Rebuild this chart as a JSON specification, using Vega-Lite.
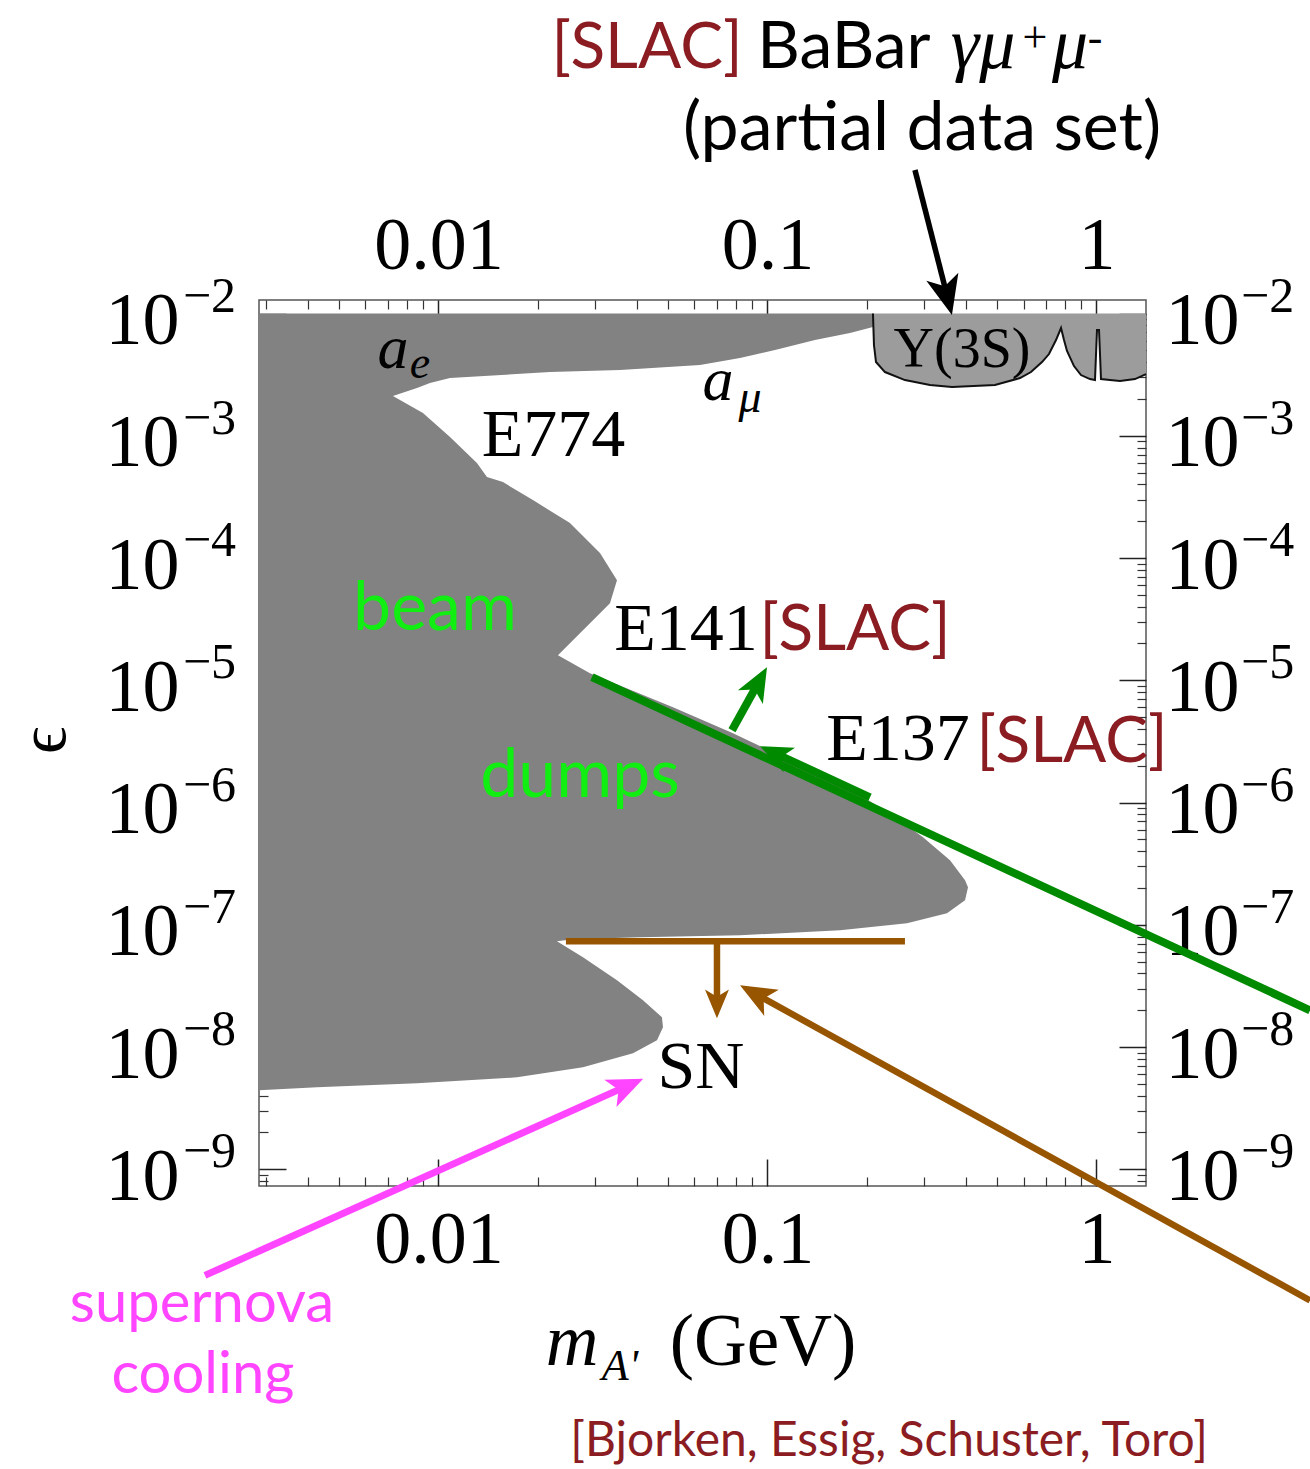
{
"$schema": "https://vega.github.io/schema/vega-lite/v6.json",
"width": 887, "height": 886,
"autosize": {"type": "none"},
"padding": {"left": 259, "top": 300, "right": 164, "bottom": 283},
"background": "white",
"config": {"view": {"stroke": "#555555", "strokeWidth": 1.5}},
"resolve": {"axis": {"x": "independent", "y": "independent"}},
"datasets": {
"region": [
{"m":0.2092,"eps":0.01},{"m":0.2092,"eps":7.753e-3},{"m":0.1781,"eps":6.924e-3},{"m":0.1394,"eps":6.069e-3},{"m":0.1054,"eps":5.027e-3},{"m":0.08249,"eps":4.323e-3},{"m":0.06234,"eps":3.790e-3},{"m":0.03562,"eps":3.448e-3},{"m":0.02182,"eps":3.321e-3},{"m":0.01084,"eps":2.966e-3},{"m":0.009423,"eps":2.700e-3},{"m":0.008604,"eps":2.457e-3},{"m":0.007271,"eps":2.113e-3},{"m":0.008972,"eps":1.534e-3},{"m":0.01084,"eps":9.759e-4},{"m":0.01309,"eps":5.978e-4},{"m":0.01404,"eps":4.592e-4},{"m":0.01570,"eps":4.180e-4},{"m":0.01937,"eps":2.977e-4},{"m":0.02510,"eps":1.930e-4},{"m":0.03097,"eps":1.097e-4},{"m":0.03488,"eps":6.593e-5},{"m":0.03321,"eps":4.274e-5},{"m":0.02749,"eps":2.570e-5},{"m":0.02308,"eps":1.605e-5},{"m":0.02887,"eps":1.143e-5},{"m":0.05162,"eps":6.024e-6},{"m":0.07855,"eps":3.690e-6},{"m":0.1171,"eps":2.219e-6},{"m":0.1661,"eps":1.439e-6},{"m":0.2357,"eps":8.174e-7},{"m":0.2970,"eps":5.200e-7},{"m":0.3587,"eps":3.372e-7},{"m":0.3985,"eps":2.313e-7},{"m":0.4069,"eps":2.027e-7},{"m":0.3985,"eps":1.587e-7},{"m":0.3512,"eps":1.242e-7},{"m":0.2655,"eps":1.029e-7},{"m":0.1661,"eps":9.016e-8},{"m":0.08249,"eps":8.206e-8},{"m":0.04098,"eps":7.902e-8},{"m":0.02563,"eps":7.609e-8},{"m":0.02292,"eps":7.328e-8},{"m":0.02749,"eps":5.420e-8},{"m":0.03488,"eps":3.514e-8},{"m":0.04184,"eps":2.411e-8},{"m":0.04778,"eps":1.750e-8},{"m":0.04813,"eps":1.450e-8},{"m":0.04615,"eps":1.134e-8},{"m":0.03901,"eps":8.881e-9},{"m":0.02749,"eps":6.823e-9},{"m":0.01732,"eps":5.649e-9},{"m":0.008604,"eps":5.046e-9},{"m":0.004272,"eps":4.680e-9},{"m":0.002848,"eps":4.423e-9}
],
"babar": [
{"m":0.2092,"eps":0.01},{"m":0.2107,"eps":5.524e-3},{"m":0.2137,"eps":4.010e-3},{"m":0.2276,"eps":3.321e-3},{"m":0.2617,"eps":2.856e-3},{"m":0.3118,"eps":2.599e-3},{"m":0.3638,"eps":2.503e-3},{"m":0.4914,"eps":2.599e-3},{"m":0.5855,"eps":2.966e-3},{"m":0.6323,"eps":3.321e-3},{"m":0.6829,"eps":4.010e-3},{"m":0.7171,"eps":4.662e-3},{"m":0.7532,"eps":6.069e-3},{"m":0.7801,"eps":7.609e-3},{"m":0.7966,"eps":6.069e-3},{"m":0.8135,"eps":4.934e-3},{"m":0.8543,"eps":3.718e-3},{"m":0.8971,"eps":3.139e-3},{"m":0.9555,"eps":2.911e-3},{"m":0.9895,"eps":2.856e-3},{"m":1.0035,"eps":7.328e-3},{"m":1.0177,"eps":7.328e-3},{"m":1.032,"eps":2.911e-3},{"m":1.099,"eps":2.856e-3},{"m":1.179,"eps":2.803e-3},{"m":1.309,"eps":2.911e-3},{"m":1.414,"eps":3.198e-3}
],
"sups": [
{"eps":1e-2,"t":"−2"},{"eps":1e-3,"t":"−3"},{"eps":1e-4,"t":"−4"},{"eps":1e-5,"t":"−5"},{"eps":1e-6,"t":"−6"},{"eps":1e-7,"t":"−7"},{"eps":1e-8,"t":"−8"},{"eps":1e-9,"t":"−9"}
]
},
"layer": [
{"data": {"name": "region"},
 "mark": {"type": "area", "orient": "horizontal", "color": "#828282"},
 "encoding": {
  "y": {"field": "eps", "type": "quantitative", "scale": {"type": "log", "domain": [7.3e-10, 0.0129], "nice": false},
        "axis": {"orient": "left", "values": [1e-9,1e-8,1e-7,1e-6,1e-5,1e-4,1e-3,1e-2], "labelExpr": "'10'", "title": null, "domain": false, "grid": false, "ticks": true, "tickSize": 27, "offset": -27, "tickColor": "#222222", "tickWidth": 1.5, "labelFont": "Liberation Serif", "labelFontSize": 74, "labelColor": "#000000", "labelAlign": "right", "labelBaseline": "alphabetic", "labelOffset": 30, "labelPadding": 80, "labelOverlap": false, "labelFlush": false, "labelBound": false}},
  "x": {"field": "m", "type": "quantitative", "scale": {"type": "log", "domain": [0.002848, 1.414], "nice": false},
        "axis": {"orient": "bottom", "values": [0.01, 0.1, 1], "labelExpr": "datum.value < 0.05 ? '0.01' : (datum.value < 0.5 ? '0.1' : '1')", "title": null, "domain": false, "grid": false, "ticks": true, "tickSize": 27, "offset": -27, "tickColor": "#222222", "tickWidth": 1.5, "labelFont": "Liberation Serif", "labelFontSize": 74, "labelColor": "#000000", "labelAlign": "center", "labelBaseline": "alphabetic", "labelPadding": 76, "labelOverlap": false, "labelFlush": false, "labelBound": false}},
  "x2": {"datum": 0.002848}
 }},
{"data": {"name": "babar"},
 "mark": {"type": "area", "color": "#9c9c9c"},
 "encoding": {
  "x": {"field": "m", "type": "quantitative", "scale": {"type": "log", "domain": [0.002848, 1.414], "nice": false},
        "axis": {"orient": "bottom", "values": [0.003,0.004,0.005,0.006,0.007,0.008,0.009,0.02,0.03,0.04,0.05,0.06,0.07,0.08,0.09,0.2,0.3,0.4,0.5,0.6,0.7,0.8,0.9], "labels": false, "title": null, "domain": false, "grid": false, "tickSize": 9, "offset": -9, "tickColor": "#333333", "tickWidth": 1.2}},
  "y": {"field": "eps", "type": "quantitative", "scale": {"type": "log", "domain": [7.3e-10, 0.0129], "nice": false},
        "axis": {"orient": "left", "values": [8e-10,9e-10,2e-9,3e-9,4e-9,5e-9,6e-9,7e-9,8e-9,9e-9,2e-8,3e-8,4e-8,5e-8,6e-8,7e-8,8e-8,9e-8,2e-7,3e-7,4e-7,5e-7,6e-7,7e-7,8e-7,9e-7,2e-6,3e-6,4e-6,5e-6,6e-6,7e-6,8e-6,9e-6,2e-5,3e-5,4e-5,5e-5,6e-5,7e-5,8e-5,9e-5,2e-4,3e-4,4e-4,5e-4,6e-4,7e-4,8e-4,9e-4,2e-3,3e-3,4e-3,5e-3,6e-3,7e-3,8e-3,9e-3], "labels": false, "title": null, "domain": false, "grid": false, "tickSize": 9, "offset": -9, "tickColor": "#333333", "tickWidth": 1.2}},
  "y2": {"datum": 0.01}
 }},
{"data": {"name": "babar"},
 "mark": {"type": "line", "color": "#111111", "strokeWidth": 2},
 "encoding": {
  "x": {"field": "m", "type": "quantitative", "scale": {"type": "log", "domain": [0.002848, 1.414], "nice": false},
        "axis": {"orient": "top", "values": [0.01, 0.1, 1], "labelExpr": "datum.value < 0.05 ? '0.01' : (datum.value < 0.5 ? '0.1' : '1')", "title": null, "domain": false, "grid": false, "ticks": true, "tickSize": 27, "offset": -27, "tickColor": "#222222", "tickWidth": 1.5, "labelFont": "Liberation Serif", "labelFontSize": 74, "labelColor": "#000000", "labelAlign": "center", "labelBaseline": "alphabetic", "labelPadding": 32, "labelOverlap": false, "labelFlush": false, "labelBound": false}},
  "y": {"field": "eps", "type": "quantitative", "scale": {"type": "log", "domain": [7.3e-10, 0.0129], "nice": false},
        "axis": {"orient": "right", "values": [1e-9,1e-8,1e-7,1e-6,1e-5,1e-4,1e-3,1e-2], "labelExpr": "'10'", "title": null, "domain": false, "grid": false, "ticks": true, "tickSize": 27, "offset": -27, "tickColor": "#222222", "tickWidth": 1.5, "labelFont": "Liberation Serif", "labelFontSize": 74, "labelColor": "#000000", "labelAlign": "left", "labelBaseline": "alphabetic", "labelOffset": 30, "labelPadding": 19, "labelOverlap": false, "labelFlush": false, "labelBound": false}}
 }},
{"data": {"values": [
  {"m":0.02928,"eps":1.060e-5,"m2":4.456,"eps2":1.997e-8},
  {"m":0.07801,"eps":3.906e-6,"m2":0.09344,"eps2":9.363e-6},
  {"m":0.2049,"eps":1.103e-6,"m2":0.1063,"eps2":2.503e-6}]},
 "mark": {"type": "rule", "color": "#008a00", "strokeWidth": 8},
 "encoding": {
  "x": {"field": "m", "type": "quantitative", "scale": {"type": "log", "domain": [0.002848, 1.414], "nice": false},
        "axis": {"orient": "top", "values": [0.003,0.004,0.005,0.006,0.007,0.008,0.009,0.02,0.03,0.04,0.05,0.06,0.07,0.08,0.09,0.2,0.3,0.4,0.5,0.6,0.7,0.8,0.9], "labels": false, "title": null, "domain": false, "grid": false, "tickSize": 9, "offset": -9, "tickColor": "#333333", "tickWidth": 1.2}},
  "x2": {"field": "m2"},
  "y": {"field": "eps", "type": "quantitative", "scale": {"type": "log", "domain": [7.3e-10, 0.0129], "nice": false},
        "axis": {"orient": "right", "values": [8e-10,9e-10,2e-9,3e-9,4e-9,5e-9,6e-9,7e-9,8e-9,9e-9,2e-8,3e-8,4e-8,5e-8,6e-8,7e-8,8e-8,9e-8,2e-7,3e-7,4e-7,5e-7,6e-7,7e-7,8e-7,9e-7,2e-6,3e-6,4e-6,5e-6,6e-6,7e-6,8e-6,9e-6,2e-5,3e-5,4e-5,5e-5,6e-5,7e-5,8e-5,9e-5,2e-4,3e-4,4e-4,5e-4,6e-4,7e-4,8e-4,9e-4,2e-3,3e-3,4e-3,5e-3,6e-3,7e-3,8e-3,9e-3], "labels": false, "title": null, "domain": false, "grid": false, "tickSize": 9, "offset": -9, "tickColor": "#333333", "tickWidth": 1.2}},
  "y2": {"field": "eps2"}
 }},
{"data": {"values": [
  {"m":0.02440,"eps":7.328e-8,"m2":0.2617,"eps2":7.328e-8},
  {"m":0.07022,"eps":7.328e-8,"m2":0.07022,"eps2":2.322e-8},
  {"m":4.456,"eps":8.455e-11,"m2":0.09325,"eps2":2.664e-8}]},
 "mark": {"type": "rule", "color": "#975500", "strokeWidth": 6.5},
 "encoding": {
  "x": {"field": "m", "type": "quantitative", "scale": {"type": "log", "domain": [0.002848, 1.414], "nice": false}, "axis": null},
  "x2": {"field": "m2"},
  "y": {"field": "eps", "type": "quantitative", "scale": {"type": "log", "domain": [7.3e-10, 0.0129], "nice": false}, "axis": null},
  "y2": {"field": "eps2"}
 }},
{"data": {"values": [{"m":0.001951,"eps":1.355e-10,"m2":0.03689,"eps2":4.724e-9}]},
 "mark": {"type": "rule", "color": "#ff45ff", "strokeWidth": 7},
 "encoding": {
  "x": {"field": "m", "type": "quantitative", "scale": {"type": "log", "domain": [0.002848, 1.414], "nice": false}, "axis": null},
  "x2": {"field": "m2"},
  "y": {"field": "eps", "type": "quantitative", "scale": {"type": "log", "domain": [7.3e-10, 0.0129], "nice": false}, "axis": null},
  "y2": {"field": "eps2"}
 }},
{"data": {"values": [{"m":0.2807,"eps":0.1494,"m2":0.3503,"eps2":0.01452}]},
 "mark": {"type": "rule", "color": "#000000", "strokeWidth": 5.5},
 "encoding": {
  "x": {"field": "m", "type": "quantitative", "scale": {"type": "log", "domain": [0.002848, 1.414], "nice": false}, "axis": null},
  "x2": {"field": "m2"},
  "y": {"field": "eps", "type": "quantitative", "scale": {"type": "log", "domain": [7.3e-10, 0.0129], "nice": false}, "axis": null},
  "y2": {"field": "eps2"}
 }},
{"data": {"values": [{"m":0.3503,"eps":0.01452}]},
 "mark": {"type": "point", "shape": "M0,-1L0.75,0.8L0,0.35L-0.75,0.8Z", "filled": true, "opacity": 1, "color": "#000000", "size": 1936, "angle": 166},
 "encoding": {
  "x": {"field": "m", "type": "quantitative", "scale": {"type": "log", "domain": [0.002848, 1.414], "nice": false}, "axis": null},
  "y": {"field": "eps", "type": "quantitative", "scale": {"type": "log", "domain": [7.3e-10, 0.0129], "nice": false}, "axis": null}
 }},
{"data": {"values": [{"m":0.09344,"eps":9.363e-6}]},
 "mark": {"type": "point", "shape": "M0,-1L0.75,0.8L0,0.35L-0.75,0.8Z", "filled": true, "opacity": 1, "color": "#008a00", "size": 1444, "angle": 29},
 "encoding": {
  "x": {"field": "m", "type": "quantitative", "scale": {"type": "log", "domain": [0.002848, 1.414], "nice": false}, "axis": null},
  "y": {"field": "eps", "type": "quantitative", "scale": {"type": "log", "domain": [7.3e-10, 0.0129], "nice": false}, "axis": null}
 }},
{"data": {"values": [{"m":0.1063,"eps":2.503e-6}]},
 "mark": {"type": "point", "shape": "M0,-1L0.75,0.8L0,0.35L-0.75,0.8Z", "filled": true, "opacity": 1, "color": "#008a00", "size": 1296, "angle": 295},
 "encoding": {
  "x": {"field": "m", "type": "quantitative", "scale": {"type": "log", "domain": [0.002848, 1.414], "nice": false}, "axis": null},
  "y": {"field": "eps", "type": "quantitative", "scale": {"type": "log", "domain": [7.3e-10, 0.0129], "nice": false}, "axis": null}
 }},
{"data": {"values": [{"m":0.07022,"eps":2.322e-8}]},
 "mark": {"type": "point", "shape": "M0,-1L0.75,0.8L0,0.35L-0.75,0.8Z", "filled": true, "opacity": 1, "color": "#975500", "size": 1024, "angle": 180},
 "encoding": {
  "x": {"field": "m", "type": "quantitative", "scale": {"type": "log", "domain": [0.002848, 1.414], "nice": false}, "axis": null},
  "y": {"field": "eps", "type": "quantitative", "scale": {"type": "log", "domain": [7.3e-10, 0.0129], "nice": false}, "axis": null}
 }},
{"data": {"values": [{"m":0.09325,"eps":2.664e-8}]},
 "mark": {"type": "point", "shape": "M0,-1L0.75,0.8L0,0.35L-0.75,0.8Z", "filled": true, "opacity": 1, "color": "#975500", "size": 1600, "angle": 299},
 "encoding": {
  "x": {"field": "m", "type": "quantitative", "scale": {"type": "log", "domain": [0.002848, 1.414], "nice": false}, "axis": null},
  "y": {"field": "eps", "type": "quantitative", "scale": {"type": "log", "domain": [7.3e-10, 0.0129], "nice": false}, "axis": null}
 }},
{"data": {"values": [{"m":0.03689,"eps":4.724e-9}]},
 "mark": {"type": "point", "shape": "M0,-1L0.75,0.8L0,0.35L-0.75,0.8Z", "filled": true, "opacity": 1, "color": "#ff45ff", "size": 1600, "angle": 66},
 "encoding": {
  "x": {"field": "m", "type": "quantitative", "scale": {"type": "log", "domain": [0.002848, 1.414], "nice": false}, "axis": null},
  "y": {"field": "eps", "type": "quantitative", "scale": {"type": "log", "domain": [7.3e-10, 0.0129], "nice": false}, "axis": null}
 }},
{"data": {"name": "sups"},
 "mark": {"type": "text", "font": "Liberation Serif", "fontSize": 50, "color": "#000000", "align": "left", "baseline": "alphabetic", "dy": -2},
 "encoding": {
  "x": {"datum": 0.001672, "type": "quantitative", "scale": {"type": "log", "domain": [0.002848, 1.414], "nice": false}, "axis": null},
  "y": {"field": "eps", "type": "quantitative", "scale": {"type": "log", "domain": [7.3e-10, 0.0129], "nice": false}, "axis": null},
  "text": {"field": "t"}
 }},
{"data": {"name": "sups"},
 "mark": {"type": "text", "font": "Liberation Serif", "fontSize": 50, "color": "#000000", "align": "left", "baseline": "alphabetic", "dy": -2},
 "encoding": {
  "x": {"datum": 2.749, "type": "quantitative", "scale": {"type": "log", "domain": [0.002848, 1.414], "nice": false}, "axis": null},
  "y": {"field": "eps", "type": "quantitative", "scale": {"type": "log", "domain": [7.3e-10, 0.0129], "nice": false}, "axis": null},
  "text": {"field": "t"}
 }},
{"data": {"values": [{"m":0.04302,"eps":1.021,"t":"[SLAC]"},{"m":0.1845,"eps":1.763e-5,"t":"[SLAC]"},{"m":0.8423,"eps":2.137e-6,"t":"[SLAC]"}]},
 "mark": {"type": "text", "font": "Lato", "fontSize": 64, "color": "#8b1c22", "align": "center", "baseline": "alphabetic"},
 "encoding": {
  "x": {"field": "m", "type": "quantitative", "scale": {"type": "log", "domain": [0.002848, 1.414], "nice": false}, "axis": null},
  "y": {"field": "eps", "type": "quantitative", "scale": {"type": "log", "domain": [7.3e-10, 0.0129], "nice": false}, "axis": null},
  "text": {"field": "t"}
 }},
{"data": {"values": [{"m":0.1708,"eps":1.021,"t":"BaBar"}]},
 "mark": {"type": "text", "font": "Lato", "fontSize": 66, "color": "#000000", "align": "center", "baseline": "alphabetic"},
 "encoding": {
  "x": {"field": "m", "type": "quantitative", "scale": {"type": "log", "domain": [0.002848, 1.414], "nice": false}, "axis": null},
  "y": {"field": "eps", "type": "quantitative", "scale": {"type": "log", "domain": [7.3e-10, 0.0129], "nice": false}, "axis": null},
  "text": {"field": "t"}
 }},
{"data": {"values": [{"m":0.2949,"eps":0.2178,"t":"(partial data set)"}]},
 "mark": {"type": "text", "font": "Lato", "fontSize": 68, "color": "#000000", "align": "center", "baseline": "alphabetic"},
 "encoding": {
  "x": {"field": "m", "type": "quantitative", "scale": {"type": "log", "domain": [0.002848, 1.414], "nice": false}, "axis": null},
  "y": {"field": "eps", "type": "quantitative", "scale": {"type": "log", "domain": [7.3e-10, 0.0129], "nice": false}, "axis": null},
  "text": {"field": "t"}
 }},
{"data": {"values": [{"m":0.4520,"eps":1.021,"t":"γμ"},{"m":0.8308,"eps":1.021,"t":"μ"}]},
 "mark": {"type": "text", "font": "Liberation Serif", "fontStyle": "italic", "fontSize": 72, "color": "#000000", "align": "center", "baseline": "alphabetic"},
 "encoding": {
  "x": {"field": "m", "type": "quantitative", "scale": {"type": "log", "domain": [0.002848, 1.414], "nice": false}, "axis": null},
  "y": {"field": "eps", "type": "quantitative", "scale": {"type": "log", "domain": [7.3e-10, 0.0129], "nice": false}, "axis": null},
  "text": {"field": "t"}
 }},
{"data": {"values": [{"m":0.007271,"eps":3.581e-3,"t":"a"},{"m":0.07071,"eps":1.960e-3,"t":"a"}]},
 "mark": {"type": "text", "font": "Liberation Serif", "fontStyle": "italic", "fontSize": 62, "color": "#000000", "align": "center", "baseline": "alphabetic"},
 "encoding": {
  "x": {"field": "m", "type": "quantitative", "scale": {"type": "log", "domain": [0.002848, 1.414], "nice": false}, "axis": null},
  "y": {"field": "eps", "type": "quantitative", "scale": {"type": "log", "domain": [7.3e-10, 0.0129], "nice": false}, "axis": null},
  "text": {"field": "t"}
 }},
{"data": {"values": [{"m":0.6503,"eps":1.380,"t":"+"},{"m":0.9895,"eps":1.380,"t":"-"}]},
 "mark": {"type": "text", "font": "Liberation Serif", "fontSize": 44, "color": "#000000", "align": "center", "baseline": "alphabetic"},
 "encoding": {
  "x": {"field": "m", "type": "quantitative", "scale": {"type": "log", "domain": [0.002848, 1.414], "nice": false}, "axis": null},
  "y": {"field": "eps", "type": "quantitative", "scale": {"type": "log", "domain": [7.3e-10, 0.0129], "nice": false}, "axis": null},
  "text": {"field": "t"}
 }},
{"data": {"values": [{"m":0.008787,"eps":2.966e-3,"t":"e"},{"m":0.08848,"eps":1.563e-3,"t":"μ"}]},
 "mark": {"type": "text", "font": "Liberation Serif", "fontStyle": "italic", "fontSize": 46, "color": "#000000", "align": "center", "baseline": "alphabetic"},
 "encoding": {
  "x": {"field": "m", "type": "quantitative", "scale": {"type": "log", "domain": [0.002848, 1.414], "nice": false}, "axis": null},
  "y": {"field": "eps", "type": "quantitative", "scale": {"type": "log", "domain": [7.3e-10, 0.0129], "nice": false}, "axis": null},
  "text": {"field": "t"}
 }},
{"data": {"values": [{"m":0.03562,"eps":1.873e-11,"t":"A'"}]},
 "mark": {"type": "text", "font": "Liberation Serif", "fontStyle": "italic", "fontSize": 44, "color": "#000000", "align": "center", "baseline": "alphabetic"},
 "encoding": {
  "x": {"field": "m", "type": "quantitative", "scale": {"type": "log", "domain": [0.002848, 1.414], "nice": false}, "axis": null},
  "y": {"field": "eps", "type": "quantitative", "scale": {"type": "log", "domain": [7.3e-10, 0.0129], "nice": false}, "axis": null},
  "text": {"field": "t"}
 }},
{"data": {"values": [{"m":0.02236,"eps":6.823e-4,"t":"E774"},{"m":0.05652,"eps":1.763e-5,"t":"E141"},{"m":0.2493,"eps":2.219e-6,"t":"E137"},{"m":0.06279,"eps":4.592e-9,"t":"SN"}]},
 "mark": {"type": "text", "font": "Liberation Serif", "fontSize": 68, "color": "#000000", "align": "center", "baseline": "alphabetic"},
 "encoding": {
  "x": {"field": "m", "type": "quantitative", "scale": {"type": "log", "domain": [0.002848, 1.414], "nice": false}, "axis": null},
  "y": {"field": "eps", "type": "quantitative", "scale": {"type": "log", "domain": [7.3e-10, 0.0129], "nice": false}, "axis": null},
  "text": {"field": "t"}
 }},
{"data": {"values": [{"m":0.09689,"eps":2.485e-11,"t":"(GeV)"}]},
 "mark": {"type": "text", "font": "Liberation Serif", "fontSize": 73, "color": "#000000", "align": "center", "baseline": "alphabetic"},
 "encoding": {
  "x": {"field": "m", "type": "quantitative", "scale": {"type": "log", "domain": [0.002848, 1.414], "nice": false}, "axis": null},
  "y": {"field": "eps", "type": "quantitative", "scale": {"type": "log", "domain": [7.3e-10, 0.0129], "nice": false}, "axis": null},
  "text": {"field": "t"}
 }},
{"data": {"values": [{"m":0.02546,"eps":2.485e-11,"t":"m"}]},
 "mark": {"type": "text", "font": "Liberation Serif", "fontStyle": "italic", "fontSize": 73, "color": "#000000", "align": "center", "baseline": "alphabetic"},
 "encoding": {
  "x": {"field": "m", "type": "quantitative", "scale": {"type": "log", "domain": [0.002848, 1.414], "nice": false}, "axis": null},
  "y": {"field": "eps", "type": "quantitative", "scale": {"type": "log", "domain": [7.3e-10, 0.0129], "nice": false}, "axis": null},
  "text": {"field": "t"}
 }},
{"data": {"values": [{"m":0.3901,"eps":3.649e-3,"t":"Υ(3S)"}]},
 "mark": {"type": "text", "font": "Liberation Serif", "fontSize": 56, "color": "#000000", "align": "center", "baseline": "alphabetic"},
 "encoding": {
  "x": {"field": "m", "type": "quantitative", "scale": {"type": "log", "domain": [0.002848, 1.414], "nice": false}, "axis": null},
  "y": {"field": "eps", "type": "quantitative", "scale": {"type": "log", "domain": [7.3e-10, 0.0129], "nice": false}, "axis": null},
  "text": {"field": "t"}
 }},
{"data": {"values": [{"m":0.009759,"eps":2.570e-5,"t":"beam"},{"m":0.02693,"eps":1.105e-6,"t":"dumps"}]},
 "mark": {"type": "text", "font": "Lato", "fontSize": 68, "color": "#11ee11", "align": "center", "baseline": "alphabetic"},
 "encoding": {
  "x": {"field": "m", "type": "quantitative", "scale": {"type": "log", "domain": [0.002848, 1.414], "nice": false}, "axis": null},
  "y": {"field": "eps", "type": "quantitative", "scale": {"type": "log", "domain": [7.3e-10, 0.0129], "nice": false}, "axis": null},
  "text": {"field": "t"}
 }},
{"data": {"values": [{"m":0.001911,"eps":5.586e-11,"t":"supernova"},{"m":0.001924,"eps":1.466e-11,"t":"cooling"}]},
 "mark": {"type": "text", "font": "Lato", "fontSize": 58, "color": "#ff45ff", "align": "center", "baseline": "alphabetic"},
 "encoding": {
  "x": {"field": "m", "type": "quantitative", "scale": {"type": "log", "domain": [0.002848, 1.414], "nice": false}, "axis": null},
  "y": {"field": "eps", "type": "quantitative", "scale": {"type": "log", "domain": [7.3e-10, 0.0129], "nice": false}, "axis": null},
  "text": {"field": "t"}
 }},
{"data": {"values": [{"m":0.2341,"eps":4.558e-12,"t":"[Bjorken, Essig, Schuster, Toro]"}]},
 "mark": {"type": "text", "font": "Lato", "fontSize": 48, "color": "#8b1c22", "align": "center", "baseline": "alphabetic"},
 "encoding": {
  "x": {"field": "m", "type": "quantitative", "scale": {"type": "log", "domain": [0.002848, 1.414], "nice": false}, "axis": null},
  "y": {"field": "eps", "type": "quantitative", "scale": {"type": "log", "domain": [7.3e-10, 0.0129], "nice": false}, "axis": null},
  "text": {"field": "t"}
 }},
{"data": {"values": [{"m":6.368e-4,"eps":3.234e-6,"t":"ϵ"}]},
 "mark": {"type": "text", "font": "Liberation Serif", "fontSize": 68, "color": "#000000", "align": "center", "baseline": "middle", "angle": 270},
 "encoding": {
  "x": {"field": "m", "type": "quantitative", "scale": {"type": "log", "domain": [0.002848, 1.414], "nice": false}, "axis": null},
  "y": {"field": "eps", "type": "quantitative", "scale": {"type": "log", "domain": [7.3e-10, 0.0129], "nice": false}, "axis": null},
  "text": {"field": "t"}
 }}
]
}
